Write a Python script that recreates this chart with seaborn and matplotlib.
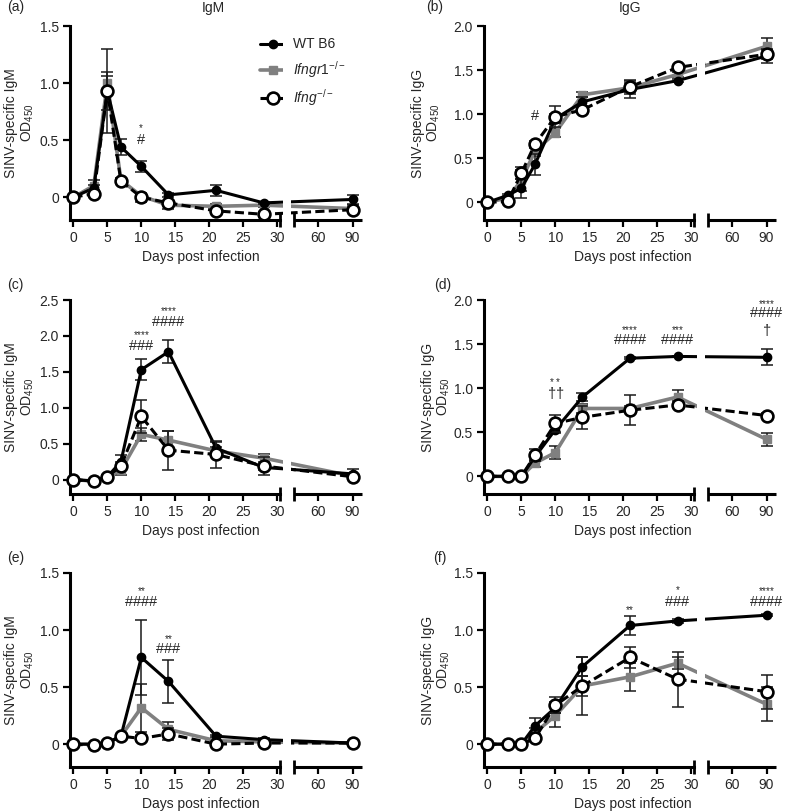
import numpy as np
import pandas as pd
import matplotlib
matplotlib.use("Agg")
import matplotlib.pyplot as plt
import seaborn as sns

# Data ----------------------------------------------------------------------
days = [0, 3, 5, 7, 10, 14, 21, 28, 90]

# (a) IgM, experiment 1
wt_a = [0, 0.08, 0.93, 0.44, 0.27, 0.02, 0.06, -0.05, -0.02]
wt_a_err = [0, 0.03, 0.37, 0.07, 0.05, 0.02, 0.05, 0.01, 0.04]
gr_a = [0, 0.10, 1.00, 0.15, 0.01, -0.07, -0.08, -0.07, -0.10]
gr_a_err = [0, 0.05, 0.06, 0.02, 0.02, 0.03, 0.02, 0.02, 0.03]
ko_a = [0, 0.03, 0.93, 0.14, 0.00, -0.05, -0.12, -0.15, -0.11]
ko_a_err = [0, 0.03, 0.17, 0.02, 0.04, 0.02, 0.02, 0.02, 0.02]

# (b) IgG, experiment 1
wt_b = [0, 0.08, 0.16, 0.43, 0.95, 1.14, 1.28, 1.38, 1.66]
wt_b_err = [0, 0.02, 0.11, 0.12, 0.05, 0.05, 0.10, 0.02, 0.08]
gr_b = [0, 0.05, 0.25, 0.58, 0.79, 1.22, 1.30, 1.45, 1.77]
gr_b_err = [0, 0.02, 0.12, 0.05, 0.05, 0.03, 0.05, 0.03, 0.09]
ko_b = [0, 0.01, 0.33, 0.66, 0.97, 1.05, 1.31, 1.53, 1.68]
ko_b_err = [0, 0.01, 0.07, 0.04, 0.12, 0.03, 0.08, 0.02, 0.05]

# (c) IgM, experiment 2
wt_c = [0, -0.02, 0.04, 0.25, 1.53, 1.78, 0.44, 0.17, 0.08]
wt_c_err = [0, 0.01, 0.02, 0.09, 0.15, 0.16, 0.08, 0.03, 0.07]
gr_c = [0, -0.02, 0.04, 0.13, 0.63, 0.55, 0.40, 0.30, 0.05]
gr_c_err = [0, 0.01, 0.02, 0.06, 0.09, 0.13, 0.05, 0.06, 0.03]
ko_c = [0, -0.02, 0.04, 0.19, 0.88, 0.41, 0.35, 0.19, 0.04]
ko_c_err = [0, 0.01, 0.02, 0.06, 0.23, 0.27, 0.19, 0.12, 0.03]

# (d) IgG, experiment 2
wt_d = [0, 0, 0, 0.22, 0.53, 0.90, 1.34, 1.36, 1.35]
wt_d_err = [0, 0, 0, 0.05, 0.04, 0.04, 0.01, 0.01, 0.09]
gr_d = [0, 0, 0, 0.15, 0.27, 0.77, 0.77, 0.90, 0.42]
gr_d_err = [0, 0, 0, 0.04, 0.07, 0.05, 0.03, 0.08, 0.07]
ko_d = [0, 0, 0, 0.24, 0.60, 0.67, 0.75, 0.81, 0.69]
ko_d_err = [0, 0, 0, 0.07, 0.10, 0.13, 0.17, 0.04, 0.03]

# (e) IgM, experiment 3
wt_e = [0, 0, 0.01, 0.07, 0.76, 0.55, 0.07, 0.04, 0.01]
wt_e_err = [0, 0, 0, 0.01, 0.33, 0.19, 0.01, 0.01, 0.01]
gr_e = [0, 0, 0.01, 0.07, 0.32, 0.13, 0.03, 0.02, 0.01]
gr_e_err = [0, 0, 0, 0.01, 0.21, 0.06, 0.01, 0.01, 0.01]
ko_e = [0, -0.01, 0.01, 0.07, 0.05, 0.09, 0.0, 0.01, 0.01]
ko_e_err = [0, 0, 0, 0.01, 0.02, 0.05, 0.01, 0.01, 0.01]

# (f) IgG, experiment 3
wt_f = [0, 0, 0, 0.16, 0.32, 0.68, 1.04, 1.08, 1.13]
wt_f_err = [0, 0, 0, 0.07, 0.05, 0.08, 0.08, 0.02, 0.01]
gr_f = [0, 0, 0, 0.10, 0.25, 0.51, 0.59, 0.71, 0.35]
gr_f_err = [0, 0, 0, 0.04, 0.10, 0.25, 0.12, 0.05, 0.15]
ko_f = [0, 0, 0, 0.05, 0.34, 0.51, 0.76, 0.57, 0.46]
ko_f_err = [0, 0, 0, 0.02, 0.07, 0.09, 0.09, 0.24, 0.15]

# significance marks: (day, y, text, small?)
sig_a = [(10, 0.61, '*', True), (10, 0.50, '#', False)]
sig_b = [(7, 0.98, '#', False)]
sig_c = [(10, 2.02, '****', True), (10, 1.86, '###', False),
         (14, 2.36, '****', True), (14, 2.20, '####', False)]
sig_d = [(10, 1.08, '* *', True), (10, 0.94, '††', False),
         (21, 1.67, '****', True), (21, 1.55, '####', False),
         (28, 1.67, '***', True), (28, 1.55, '####', False),
         (90, 1.97, '****', True), (90, 1.85, '####', False), (90, 1.66, '†', False)]
sig_e = [(10, 1.35, '**', True), (10, 1.25, '####', False),
         (14, 0.93, '**', True), (14, 0.83, '###', False)]
sig_f = [(21, 1.18, '**', True), (28, 1.36, '*', True), (28, 1.25, '###', False),
         (90, 1.35, '****', True), (90, 1.25, '####', False)]

strains = ['WT B6', r'$\mathit{Ifngr1}^{-/-}$', r'$\mathit{Ifng}^{-/-}$']

# Style ---------------------------------------------------------------------
sns.set_style('ticks')
plt.rcParams['font.family'] = ['Liberation Sans', 'DejaVu Sans']
plt.rcParams['mathtext.fontset'] = 'custom'
plt.rcParams['mathtext.rm'] = 'Liberation Sans'
plt.rcParams['mathtext.it'] = 'Liberation Sans:italic'
plt.rcParams['font.size'] = 10


# broken x axis: 0-30 linear, then a compressed piece holding 60 and 90
def fwd(x):
    x = np.asarray(x, float)
    return np.where(x <= 30, x, np.where(x <= 40, 30 + (x - 30) * 0.26, 32.6 + (x - 40) * 0.17))


def inv(t):
    t = np.asarray(t, float)
    return np.where(t <= 30, t, np.where(t <= 32.6, 30 + (t - 30) / 0.26, 40 + (t - 32.6) / 0.17))


def as_math(s):
    # mathtext gives tight boxes round the symbols
    parts = []
    for ch in s:
        if ch == ' ':
            parts.append(r'\ ')
        elif ch == '#':
            parts.append(r'{\#}')
        else:
            parts.append('{' + ch + '}')
    return '$' + ''.join(parts) + '$'


GREY = '#808080'
series_style = [
    dict(color='black', marker='o', ms=6, mfc='black', mec='black', mew=1, lw=2.2, ls='-', z=3),
    dict(color=GREY, marker='s', ms=6, mfc=GREY, mec=GREY, mew=1, lw=2.6, ls='-', z=2),
    dict(color='black', marker='o', ms=8.5, mfc='white', mec='black', mew=1.9, lw=2.2, ls=(0, (3, 1.4)), z=4),
]

fig = plt.figure(figsize=(7.89, 8.11), dpi=100)
W, H = 789, 811
col_x = [70, 484]
row_top = [26, 300, 573]
ax_w, ax_h = 292, 194

panels = [
    ('a', [wt_a, gr_a, ko_a], [wt_a_err, gr_a_err, ko_a_err], 1.5, 'IgM', sig_a),
    ('b', [wt_b, gr_b, ko_b], [wt_b_err, gr_b_err, ko_b_err], 2.0, 'IgG', sig_b),
    ('c', [wt_c, gr_c, ko_c], [wt_c_err, gr_c_err, ko_c_err], 2.5, 'IgM', sig_c),
    ('d', [wt_d, gr_d, ko_d], [wt_d_err, gr_d_err, ko_d_err], 2.0, 'IgG', sig_d),
    ('e', [wt_e, gr_e, ko_e], [wt_e_err, gr_e_err, ko_e_err], 1.5, 'IgM', sig_e),
    ('f', [wt_f, gr_f, ko_f], [wt_f_err, gr_f_err, ko_f_err], 1.5, 'IgG', sig_f),
]
ylab_x = {'a': -0.117, 'b': -0.143, 'c': -0.117, 'd': -0.109, 'e': -0.117, 'f': -0.109}
letter_x = {'a': 7, 'b': 426, 'c': 7, 'd': 434, 'e': 7, 'f': 433}

for i, (name, vals, errs, ytop, ig, sigs) in enumerate(panels):
    r, c = divmod(i, 2)
    left = col_x[c] / W
    bottom = (H - row_top[r] - ax_h) / H
    ax = fig.add_axes([left, bottom, ax_w / W, ax_h / H])
    ax.set_xscale('function', functions=(fwd, inv))

    handles = []
    for v, e, st in zip(vals, errs, series_style):
        sns.lineplot(x=days, y=v, ax=ax, errorbar=None, color=st['color'], marker=st['marker'],
                     markersize=st['ms'], markerfacecolor=st['mfc'], markeredgecolor=st['mec'],
                     markeredgewidth=st['mew'], linewidth=st['lw'], linestyle=st['ls'],
                     zorder=st['z'], clip_on=False)
        handles.append(ax.lines[-1])
        ax.errorbar(days, v, yerr=e, fmt='none', ecolor='#1a1a1a', elinewidth=1.1,
                    capsize=4, capthick=1.1, zorder=st['z'] - 0.5, clip_on=False)

    # white gap through the lines at the axis break
    ax.axvspan(33.5, 38.1, color='white', zorder=6, lw=0)

    ax.set_xlim(-0.5, 98.2)
    ax.set_ylim(-0.2, ytop)
    ax.set_xticks([0, 5, 10, 15, 20, 25, 30, 60, 90])
    ax.set_xticklabels(['0', '5', '10', '15', '20', '25', '30', '60', '90'])
    yt = np.arange(0, ytop + 0.01, 0.5)
    ax.set_yticks(yt)
    ax.set_yticklabels(['0' if t == 0 else f'{t:.1f}' for t in yt])
    ax.tick_params(direction='out', length=5, width=1.6, labelsize=10, pad=3, color='black')

    sns.despine(ax=ax)
    for s in ['left', 'bottom']:
        ax.spines[s].set_linewidth(2.2)
        ax.spines[s].set_color('black')
    ax.spines['bottom'].set_bounds(-0.5, 31.5)
    xt = ax.get_xaxis_transform()
    ax.plot([39.5, 98.2], [0, 0], transform=xt, clip_on=False, color='black', lw=2.2,
            solid_capstyle='butt')
    for bx in [31.5, 39.5]:
        ax.plot([bx, bx], [-0.035, 0.035], transform=xt, clip_on=False, color='black', lw=2.0,
                solid_capstyle='butt')

    ax.set_xlabel('Days post infection', fontsize=10)
    ax.xaxis.set_label_coords(0.449 if c == 0 else 0.509, -0.155)
    ax.set_ylabel(f'SINV-specific {ig}\nOD$_{{450}}$', fontsize=10, linespacing=1.1)
    ax.yaxis.set_label_coords(ylab_x[name], 0.5)

    for sx, sy, txt, small in sigs:
        ax.text(sx, sy, as_math(txt), ha='center', va='center',
                fontsize=7 if small else 10.5, zorder=7)

    fig.text(letter_x[name] / W, 1 - (7 + row_top[r] - 26 + (0 if r == 0 else 4)) / H,
             f'({name})', ha='left', va='center', fontsize=10)

    if name == 'a':
        ax.legend(handles, strains, loc='upper left', bbox_to_anchor=(0.63, 0.97), frameon=False,
                  handlelength=2.0, handletextpad=0.4, labelspacing=0.55, fontsize=10,
                  borderaxespad=0)

fig.text(213 / W, 1 - 8 / H, 'IgM', ha='center', va='center', fontsize=10)
fig.text(630 / W, 1 - 8 / H, 'IgG', ha='center', va='center', fontsize=10)

fig.savefig('out.png', dpi=100)
